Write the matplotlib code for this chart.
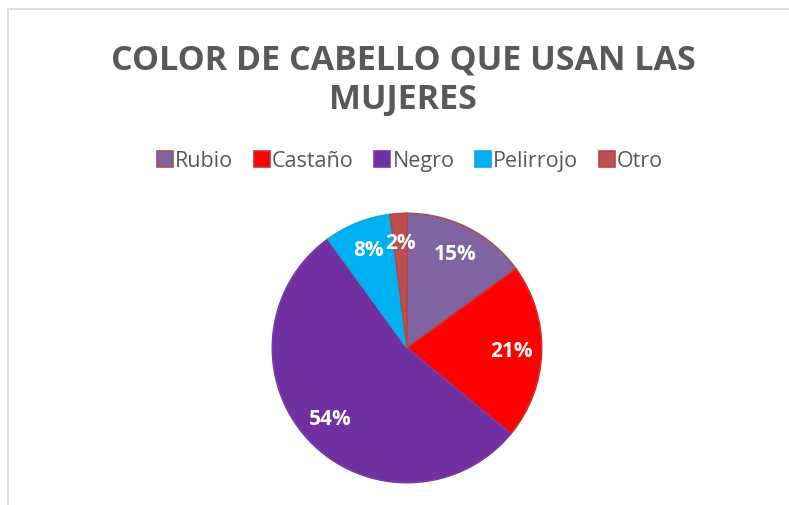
import matplotlib
matplotlib.use('Agg')
import matplotlib.pyplot as plt
from matplotlib.lines import Line2D

# datos del grafico
categorias = ['Rubio', 'Castaño', 'Negro', 'Pelirrojo', 'Otro']
porcentajes = [15, 21, 54, 8, 2]
colores = ['#8064A2', '#FF0000', '#7030A0', '#00B0F0', '#C0504D']
bordes = ['#A0505A', '#D03030', '#7A3AA8', '#10A8E0', '#B04848']
titulo = 'COLOR DE CABELLO QUE USAN LAS\nMUJERES'

plt.rcParams['font.family'] = ['Open Sans', 'DejaVu Sans']

fig = plt.figure(figsize=(7.89, 5.05), dpi=100)
fig.patch.set_facecolor('white')

# marco del area del grafico
fig.add_artist(Line2D([8/789, 8/789], [0, 1 - 9/505], color='#D9D9D9', lw=1.2, transform=fig.transFigure))
fig.add_artist(Line2D([8/789, 1], [1 - 9/505, 1 - 9/505], color='#D9D9D9', lw=1.2, transform=fig.transFigure))

fig.text(403/789, 1 - 80/505, titulo, ha='center', va='center', fontsize=24.5,
         fontweight='bold', color='#595959', linespacing=1.22)

ax = fig.add_axes([271/789, 21/505, 272/789, 272/505])
wedges, textos, autotextos = ax.pie(
    porcentajes, colors=colores, startangle=90, counterclock=False,
    autopct='%1.0f%%', pctdistance=0.78, radius=1,
    wedgeprops=dict(linewidth=1.2),
    textprops=dict(color='white', fontsize=15, fontweight='bold'))
for w, b in zip(wedges, bordes):
    w.set_edgecolor(b)
ax.set_xlim(-1.01, 1.01)
ax.set_ylim(-1.01, 1.01)
ax.set_aspect('equal')
ax.axis('off')

leg = fig.legend(wedges, categorias, loc='center', bbox_to_anchor=(410/789, 1 - 161/505),
                 ncol=5, frameon=False, fontsize=15.5, handlelength=0.75, handleheight=0.75,
                 handletextpad=0.1, columnspacing=0.95, labelcolor='#595959')

fig.savefig('out.png', dpi=100)
